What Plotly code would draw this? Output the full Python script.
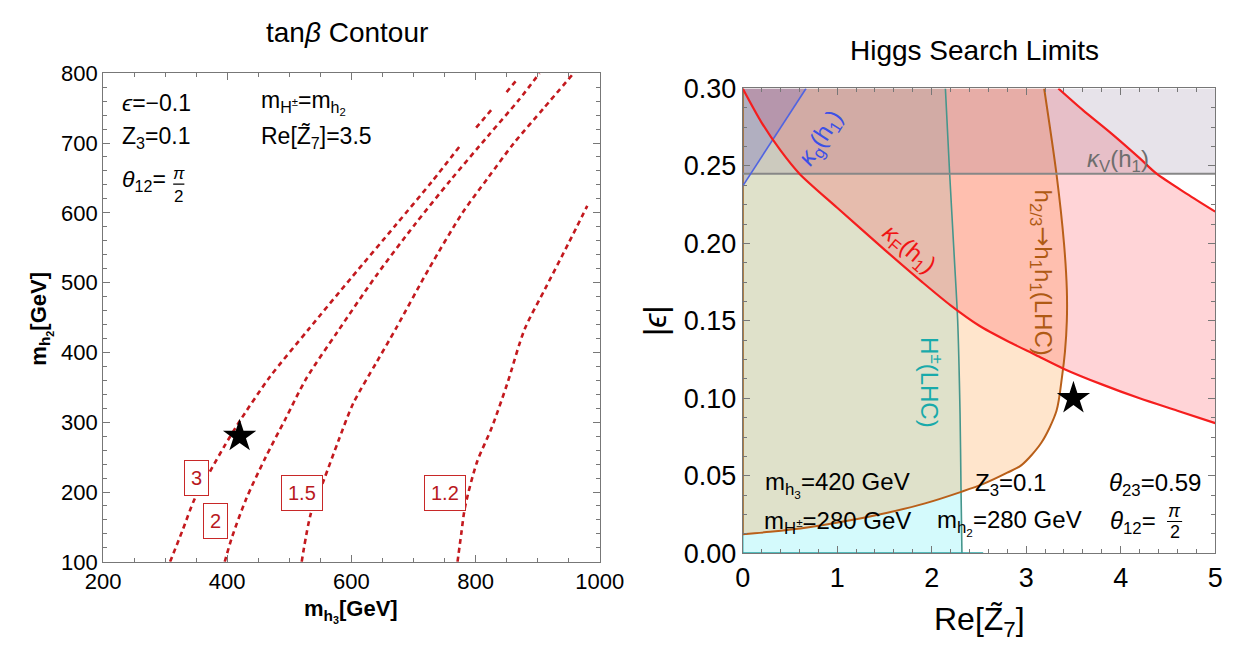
import plotly.graph_objects as go

FONT = "Liberation Sans, Arial, Helvetica, sans-serif"
W, H = 1245, 657

# ---------------- Left panel: tan(beta) contours (m_h3 [GeV], m_h2 [GeV]) ----------------
c3_x = [308, 328, 348, 372, 395, 419, 468, 531, 600, 671, 730, 776, None, 801, 826, None, 850, 866]
c3_y = [100, 145, 191, 229, 265, 300, 364, 433, 507, 582, 645, 697, None, 722, 748, None, 773, 790]
c2_x = [396, 408, 431, 462, 494, 527, 578, 640, 702, 760, 820, 870, 903]
c2_y = [100, 136, 191, 250, 305, 362, 430, 510, 583, 647, 710, 762, 800]
c15_x = [520, 535, 556, 579, 603, 640, 671, 725, 779, 820, 862, 910, 958]
c15_y = [100, 170, 218, 273, 327, 385, 433, 520, 600, 650, 700, 750, 800]
c12_x = [771, 777, 783, 802, 826, 851, 879, 912, 949, 980]
c12_y = [100, 140, 178, 242, 292, 355, 433, 491, 555, 610]
contour_labels = ["3", "2", "1.5", "1.2"]
label_x = [350, 381, 520, 751]
label_y = [220, 159, 199, 199]
star_left = (420, 280)

# ---------------- Right panel: Higgs search limits (Re[Z7], |eps|) ----------------
kF_lo_x = [0, 0.2, 0.4, 0.6, 1.0, 1.5, 1.9, 2.2, 2.5, 2.8, 3.1, 3.4, 3.8, 4.2, 4.6, 5.0]
kF_lo_y = [0.300, 0.278, 0.260, 0.245, 0.223, 0.196, 0.175, 0.160, 0.147, 0.137, 0.128, 0.119,
           0.109, 0.100, 0.092, 0.084]
kF_up_x = [3.34, 3.6, 3.9, 4.2, 4.38, 4.7, 5.0]
kF_up_y = [0.300, 0.286, 0.271, 0.255, 0.245, 0.232, 0.2205]
kV_eps = 0.245
kg_x = [0.0, 0.67]
kg_y = [0.237, 0.300]
hpm_x = [2.145, 2.19, 2.24, 2.275, 2.30, 2.31, 2.32]
hpm_y = [0.300, 0.245, 0.190, 0.150, 0.090, 0.0425, 0.0]
hpm_base_end = 2.545
hh_x = [0, 0.29, 0.70, 1.11, 1.52, 1.93, 2.32, 2.54, 2.80, 2.95, 3.16, 3.32, 3.38, 3.41, 3.43, 3.43, 3.40, 3.32, 3.19]
hh_y = [0.0123, 0.0138, 0.0168, 0.021, 0.026, 0.0322, 0.0398, 0.0446, 0.052, 0.0569, 0.0713, 0.0918,
        0.1144, 0.130, 0.150, 0.170, 0.200, 0.245, 0.300]
star_right = (3.5, 0.10)

fig = go.Figure()

# ---- left contours
red = "rgb(195,25,30)"
for cx, cy in [(c3_x, c3_y), (c2_x, c2_y), (c15_x, c15_y), (c12_x, c12_y)]:
    fig.add_trace(go.Scatter(x=cx, y=cy, mode="lines", xaxis="x", yaxis="y",
                             line=dict(color=red, width=2.6, dash="5px,4px", shape="spline", smoothing=0.8),
                             connectgaps=False, hoverinfo="skip", showlegend=False))
fig.add_trace(go.Scatter(x=[star_left[0]], y=[star_left[1]], mode="markers", xaxis="x", yaxis="y",
                         marker=dict(symbol="star", size=25, color="black"), showlegend=False))

# ---- right fills
def poly(xs, ys, color):
    fig.add_trace(go.Scatter(x=xs, y=ys, mode="lines", fill="toself", fillcolor=color,
                             line=dict(width=0), xaxis="x2", yaxis="y2",
                             hoverinfo="skip", showlegend=False))

poly([0, 0] + hpm_x, [0, 0.30] + hpm_y, "rgba(0,225,235,0.17)")          # H+- (cyan)
poly([0] + hh_x, [0.30] + hh_y, "rgba(255,150,50,0.25)")                 # h2/3 -> h1h1 (orange)
poly(kF_lo_x + kF_up_x[::-1], kF_lo_y + kF_up_y[::-1], "rgba(255,60,75,0.22)")  # kappa_F (pink)
poly([0, 5, 5, 0], [kV_eps, kV_eps, 0.30, 0.30], "rgba(110,90,130,0.17)")  # kappa_V (gray)
poly(kg_x + [0], kg_y + [0.30], "rgba(70,70,200,0.20)")                  # kappa_g (blue)

def line(xs, ys, color, width=2, shape="linear"):
    fig.add_trace(go.Scatter(x=xs, y=ys, mode="lines", xaxis="x2", yaxis="y2",
                             line=dict(color=color, width=width, shape=shape, smoothing=0.8),
                             hoverinfo="skip", showlegend=False))

teal = "rgb(40,165,165)"
line([0, 0], [0.0, 0.30], teal, 1.5)
line(hpm_x, hpm_y, "rgb(70,150,140)", 1.6, "spline")
line([0, hpm_base_end], [0, 0], teal, 2.2)
brown = "rgb(185,95,25)"
line([0, 0], [hh_y[0], 0.30], brown, 2)
line(hh_x, hh_y, brown, 2, "spline")
line([0, 5], [kV_eps, kV_eps], "rgb(135,135,135)", 2)
line(kg_x, kg_y, "rgb(80,100,225)", 1.6)
line(kF_lo_x, kF_lo_y, "rgb(245,30,30)", 2.2, "spline")
line(kF_up_x, kF_up_y, "rgb(245,30,30)", 2.2, "spline")

fig.add_trace(go.Scatter(x=[star_right[0]], y=[star_right[1]], mode="markers", xaxis="x2", yaxis="y2",
                         marker=dict(symbol="star", size=25, color="black"), showlegend=False))

# ---------------- axes ----------------
ax_common = dict(showgrid=False, zeroline=False, showline=True, linecolor="#777", linewidth=1,
                 mirror="allticks", ticks="inside", ticklen=7, tickcolor="#777", tickwidth=1)

x1d = [88 / W, 602 / W]
y1d = [1 - 573 / H, 1 - 61 / H]
x2d = [750 / W, 1239 / W]
y2d = [1 - 564 / H, 1 - 77 / H]

fig.update_layout(
    width=W, height=H, autosize=False,
    margin=dict(l=0, r=0, t=0, b=0),
    paper_bgcolor="white", plot_bgcolor="white",
    font=dict(family=FONT, color="black"),
    xaxis=dict(domain=x1d, range=[200, 1000], tickvals=[200, 400, 600, 800, 1000],
               tickfont=dict(size=22), anchor="y",
               minor=dict(dtick=50, ticks="inside", ticklen=4, tickcolor="#777"), **ax_common),
    yaxis=dict(domain=y1d, range=[100, 800], tickvals=[100, 200, 300, 400, 500, 600, 700, 800],
               tickfont=dict(size=22), anchor="x",
               minor=dict(dtick=20, ticks="inside", ticklen=4, tickcolor="#777"), **ax_common),
    xaxis2=dict(domain=x2d, range=[0, 5], tickvals=[0, 1, 2, 3, 4, 5],
                tickfont=dict(size=27), anchor="y2",
                minor=dict(dtick=0.2, ticks="inside", ticklen=4, tickcolor="#777"), **ax_common),
    yaxis2=dict(domain=y2d, range=[0, 0.30], tickvals=[0, 0.05, 0.10, 0.15, 0.20, 0.25, 0.30],
                ticktext=["0.00", "0.05", "0.10", "0.15", "0.20", "0.25", "0.30"],
                tickfont=dict(size=27), anchor="x2",
                minor=dict(dtick=0.0125, ticks="inside", ticklen=4, tickcolor="#777"), **ax_common),
)

ann = []
def A(text, x, y, ref="paper", size=22, color="black", xanchor="center", yanchor="middle", angle=0, **kw):
    d = dict(text=text, x=x, y=y, showarrow=False, font=dict(size=size, color=color, family=FONT),
             xanchor=xanchor, yanchor=yanchor, textangle=angle)
    if ref == "paper":
        d.update(xref="paper", yref="paper")
    elif ref == "l":
        d.update(xref="x", yref="y")
    else:
        d.update(xref="x2", yref="y2")
    d.update(kw)
    ann.append(d)

# titles
A("tan<i>β</i> Contour", 341 / W, 1 - 18 / H, size=28)
A("Higgs Search Limits", 990 / W, 1 - 37 / H, size=28)
# axis titles
A("<b>m<sub>h<sub>3</sub></sub>[GeV]</b>", 345 / W, 1 - 625 / H, size=22)
A("<b>m<sub>h<sub>2</sub></sub>[GeV]</b>", 24 / W, 1 - 318 / H, size=22, angle=-90)
A("Re[Z\u0303<sub>7</sub>]", 995 / W, 1 - 636 / H, size=32)
A("|<i>ϵ</i>|", 660 / W, 1 - 320 / H, size=32, angle=-90)

# left-panel parameter text
A("<i>ϵ</i>=\u22120.1", 228, 758, ref="l", size=23, xanchor="left")
A("Z<sub>3</sub>=0.1", 228, 708, ref="l", size=23, xanchor="left")
A("<i>θ</i><sub>12</sub>=", 228, 646, ref="l", size=23, xanchor="left")
A("<i>π</i>", 322, 657, ref="l", size=17)
A("2", 322, 624, ref="l", size=17)
A("m<sub>H<sup>±</sup></sub>=m<sub>h<sub>2</sub></sub>", 451, 758, ref="l", size=23, xanchor="left")
A("Re[Z\u0303<sub>7</sub>]=3.5", 451, 708, ref="l", size=23, xanchor="left")

# contour labels
for t, lx, ly in zip(contour_labels, label_x, label_y):
    A(t, lx, ly, ref="l", size=20, color="rgb(185,25,30)", bgcolor="white",
      bordercolor="rgb(200,40,40)", borderwidth=1, borderpad=6)

# right-panel curve labels
A("<i>κ</i><sub>g</sub>(h<sub>1</sub>)", 0.83, 0.268, ref="r", size=24, color="rgb(60,80,230)", angle=-57)
A("<i>κ</i><sub>F</sub>(h<sub>1</sub>)", 1.75, 0.196, ref="r", size=24, color="rgb(240,20,20)", angle=40)
A("<i>κ</i><sub>V</sub>(h<sub>1</sub>)", 3.97, 0.2535, ref="r", size=24, color="rgb(110,110,110)")
A("h<sub>2/3</sub><span style=\"font-family:DejaVu Sans\">→</span>h<sub>1</sub>h<sub>1</sub>(LHC)",
  3.16, 0.181, ref="r", size=24, color="rgb(175,90,20)", angle=90)
A("H<sup>±</sup>(LHC)", 1.99, 0.110, ref="r", size=24, color="rgb(25,170,170)", angle=90)

# right-panel parameter text
A("m<sub>h<sub>3</sub></sub>=420 GeV", 0.21, 0.0446, ref="r", size=24, xanchor="left")
A("m<sub>H<sup>±</sup></sub>=280 GeV", 0.20, 0.020, ref="r", size=24, xanchor="left")
A("Z<sub>3</sub>=0.1", 2.44, 0.0446, ref="r", size=24, xanchor="left")
A("m<sub>h<sub>2</sub></sub>=280 GeV", 2.03, 0.020, ref="r", size=24, xanchor="left")
A("<i>θ</i><sub>23</sub>=0.59", 3.85, 0.0446, ref="r", size=24, xanchor="left")
A("<i>θ</i><sub>12</sub>=", 3.87, 0.020, ref="r", size=24, xanchor="left")
A("<i>π</i>", 4.57, 0.0275, ref="r", size=18)
A("2", 4.57, 0.0135, ref="r", size=18)

fig.update_layout(annotations=ann)

# fraction bars
fig.add_shape(type="line", xref="x", yref="y", x0=313, x1=331, y0=641, y1=641,
              line=dict(color="black", width=1.2))
fig.add_shape(type="line", xref="x2", yref="y2", x0=4.49, x1=4.65, y0=0.0205, y1=0.0205,
              line=dict(color="black", width=1.2))

fig.write_html("out.html")
